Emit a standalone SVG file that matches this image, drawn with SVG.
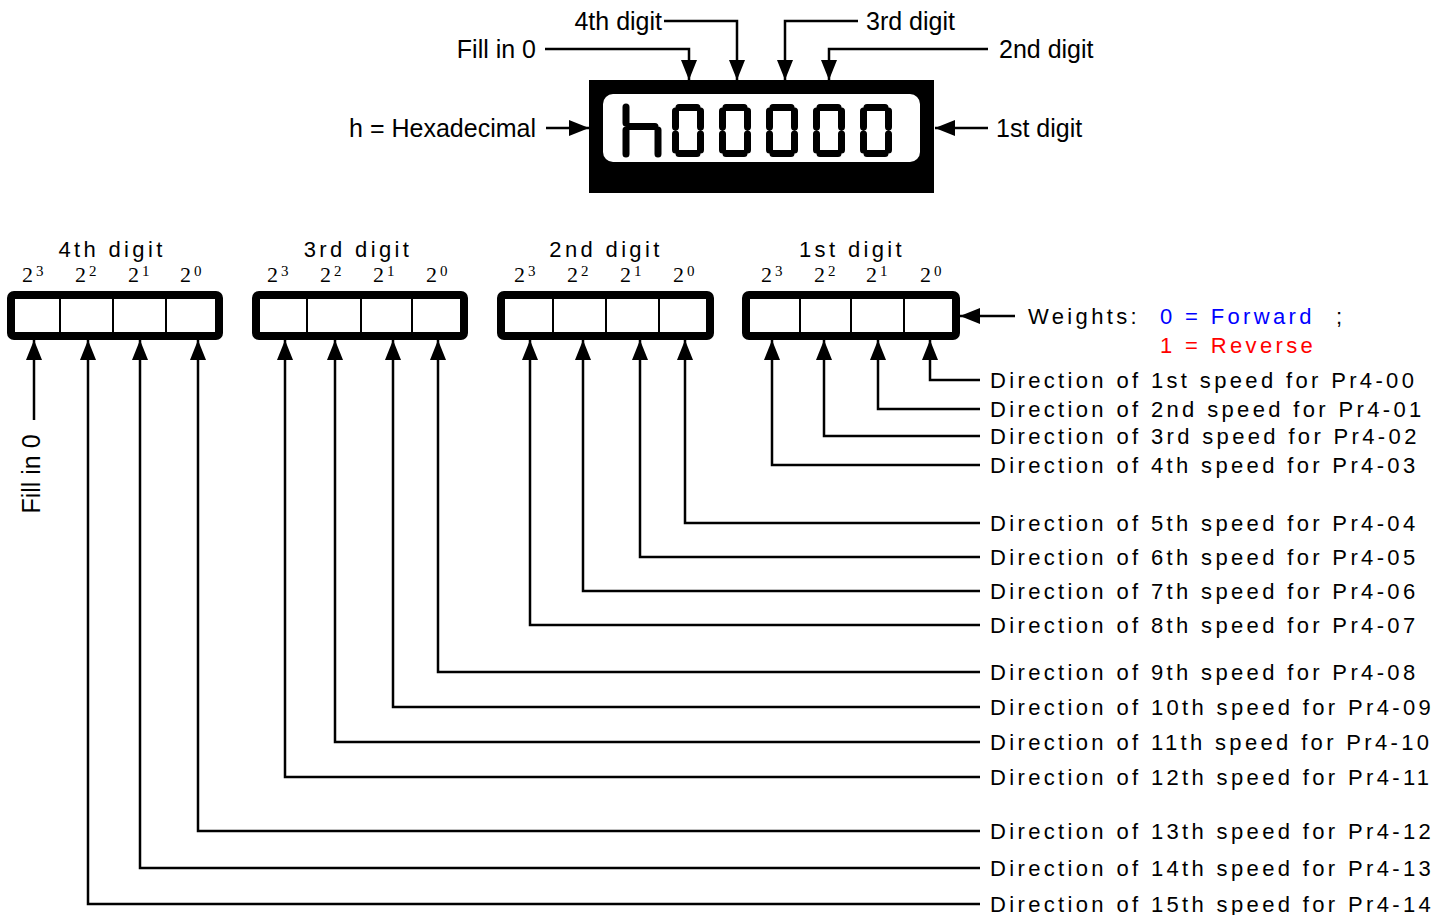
<svg xmlns="http://www.w3.org/2000/svg" width="1452" height="915" viewBox="0 0 1452 915">
<style>
.t{font-family:"Liberation Sans",Arial,sans-serif;font-size:25px;fill:#000}
.s{font-family:"Liberation Sans",Arial,sans-serif;font-size:22px;letter-spacing:3.35px;fill:#000}
.p{font-family:"Liberation Serif","Times New Roman",serif;font-size:22px;fill:#000}
.e{font-family:"Liberation Serif","Times New Roman",serif;font-size:15px;fill:#000}
.c{fill:none;stroke:#000;stroke-width:2.5}
.bx{fill:#fff;stroke:#000;stroke-width:8}
.dv{stroke:#000;stroke-width:2}
.sg{stroke:#000;stroke-width:7;stroke-linecap:round;fill:none}
</style>
<defs>
<marker id="a" viewBox="0 0 20 16" refX="20" refY="8" markerWidth="20" markerHeight="16" markerUnits="userSpaceOnUse" orient="auto"><path d="M0,0L20,8L0,16z" fill="#000"/></marker>
<g id="z" class="sg"><path d="M7,3.5H25M3.5,7V23M28.5,7V23M3.5,30V46M28.5,30V46M7,49.5H25"/></g>
</defs>
<g id="display">
<rect x="589" y="80" width="345" height="113" fill="#000"/>
<rect x="603" y="94" width="317" height="68" rx="10" fill="#fff"/>
<path class="sg" d="M626,107V123M626,130V154M630,126.5H655M658,130V154"/>
<use href="#z" x="672" y="104"/>
<use href="#z" x="719" y="104"/>
<use href="#z" x="766" y="104"/>
<use href="#z" x="813" y="104"/>
<use href="#z" x="860" y="104"/>
</g>
<g id="top-labels">
<text class="t" x="662" y="30" text-anchor="end">4th digit</text>
<text class="t" x="866" y="30">3rd digit</text>
<text class="t" x="536" y="58" text-anchor="end">Fill in 0</text>
<text class="t" x="999" y="58">2nd digit</text>
<text class="t" x="536" y="137" text-anchor="end">h = Hexadecimal</text>
<text class="t" x="996" y="137">1st digit</text>
</g>
<g id="box4th">
<text class="s" x="112" y="257" text-anchor="middle">4th digit</text>
<rect class="bx" x="11" y="295" width="208" height="41" rx="3"/>
<path class="dv" d="M60,295V336M113,295V336M166,295V336"/>
<text class="p" x="22" y="282">2</text><text class="e" x="36" y="276">3</text>
<text class="p" x="75" y="282">2</text><text class="e" x="89" y="276">2</text>
<text class="p" x="128" y="282">2</text><text class="e" x="142" y="276">1</text>
<text class="p" x="180" y="282">2</text><text class="e" x="194" y="276">0</text>
</g>
<g id="box3rd">
<text class="s" x="358" y="257" text-anchor="middle">3rd digit</text>
<rect class="bx" x="256" y="295" width="208" height="41" rx="3"/>
<path class="dv" d="M307,295V336M361,295V336M412,295V336"/>
<text class="p" x="267" y="282">2</text><text class="e" x="281" y="276">3</text>
<text class="p" x="320" y="282">2</text><text class="e" x="334" y="276">2</text>
<text class="p" x="373" y="282">2</text><text class="e" x="387" y="276">1</text>
<text class="p" x="426" y="282">2</text><text class="e" x="440" y="276">0</text>
</g>
<g id="box2nd">
<text class="s" x="606" y="257" text-anchor="middle">2nd digit</text>
<rect class="bx" x="501" y="295" width="209" height="41" rx="3"/>
<path class="dv" d="M553,295V336M606,295V336M659,295V336"/>
<text class="p" x="514" y="282">2</text><text class="e" x="528" y="276">3</text>
<text class="p" x="567" y="282">2</text><text class="e" x="581" y="276">2</text>
<text class="p" x="620" y="282">2</text><text class="e" x="634" y="276">1</text>
<text class="p" x="673" y="282">2</text><text class="e" x="687" y="276">0</text>
</g>
<g id="box1st">
<text class="s" x="852" y="257" text-anchor="middle">1st digit</text>
<rect class="bx" x="746" y="295" width="210" height="41" rx="3"/>
<path class="dv" d="M800,295V336M851,295V336M904,295V336"/>
<text class="p" x="761" y="282">2</text><text class="e" x="775" y="276">3</text>
<text class="p" x="814" y="282">2</text><text class="e" x="828" y="276">2</text>
<text class="p" x="866" y="282">2</text><text class="e" x="880" y="276">1</text>
<text class="p" x="920" y="282">2</text><text class="e" x="934" y="276">0</text>
</g>
<g id="weights">
<text class="s" x="1028" y="324">Weights:</text>
<text class="s" x="1160" y="324" style="fill:#0000ff">0 = Forward</text>
<text class="s" x="1336" y="324">;</text>
<text class="s" x="1160" y="353" style="fill:#ff0000">1 = Reverse</text>
</g>
<g id="fill0">
<text class="t" transform="translate(40,474) rotate(-90)" text-anchor="middle">Fill in 0</text>
</g>
<g id="direction-labels">
<text class="s" x="990" y="388">Direction of 1st speed for Pr4-00</text>
<text class="s" x="990" y="417">Direction of 2nd speed for Pr4-01</text>
<text class="s" x="990" y="444">Direction of 3rd speed for Pr4-02</text>
<text class="s" x="990" y="473">Direction of 4th speed for Pr4-03</text>
<text class="s" x="990" y="531">Direction of 5th speed for Pr4-04</text>
<text class="s" x="990" y="565">Direction of 6th speed for Pr4-05</text>
<text class="s" x="990" y="599">Direction of 7th speed for Pr4-06</text>
<text class="s" x="990" y="633">Direction of 8th speed for Pr4-07</text>
<text class="s" x="990" y="680">Direction of 9th speed for Pr4-08</text>
<text class="s" x="990" y="715">Direction of 10th speed for Pr4-09</text>
<text class="s" x="990" y="750">Direction of 11th speed for Pr4-10</text>
<text class="s" x="990" y="785">Direction of 12th speed for Pr4-11</text>
<text class="s" x="990" y="839">Direction of 13th speed for Pr4-12</text>
<text class="s" x="990" y="876">Direction of 14th speed for Pr4-13</text>
<text class="s" x="990" y="912">Direction of 15th speed for Pr4-14</text>
</g>
<g id="connectors" class="c" marker-end="url(#a)">
<path d="M664,21H737V80"/>
<path d="M858,21H785V80"/>
<path d="M545,49H689V80"/>
<path d="M988,49H829V80"/>
<path d="M546,128H589"/>
<path d="M988,128H935"/>
<path d="M1015,316H960"/>
<path d="M34,420V340"/>
<path d="M980,380H930V340"/>
<path d="M980,409H878V340"/>
<path d="M980,436H824V340"/>
<path d="M980,465H772V340"/>
<path d="M980,523H685V340"/>
<path d="M980,557H640V340"/>
<path d="M980,591H583V340"/>
<path d="M980,625H530V340"/>
<path d="M980,672H438V340"/>
<path d="M980,707H393V340"/>
<path d="M980,742H335V340"/>
<path d="M980,777H285V340"/>
<path d="M980,831H198V340"/>
<path d="M980,868H140V340"/>
<path d="M980,904H88V340"/>
</g>
</svg>
